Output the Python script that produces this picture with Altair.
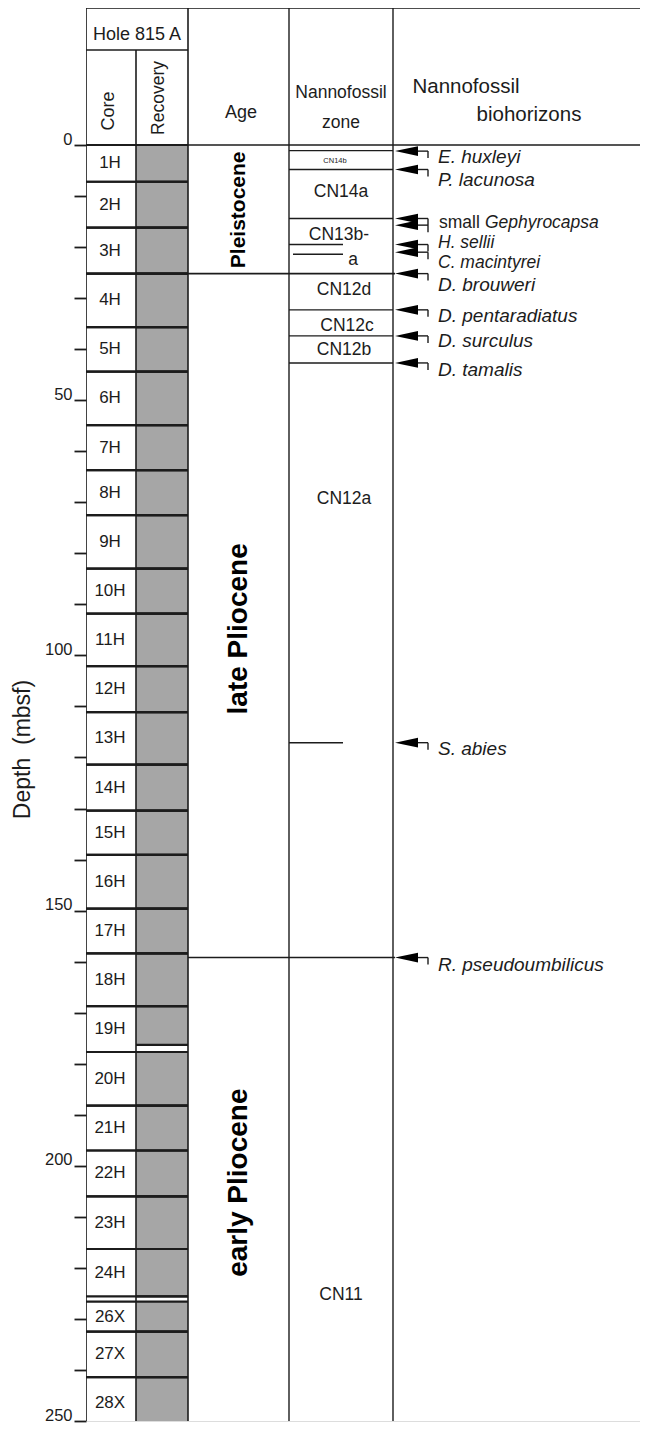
import altair as alt
import pandas as pd

# ---------------- data ----------------
core_names = ["1H", "2H", "3H", "4H", "5H", "6H", "7H", "8H", "9H", "10H", "11H", "12H",
              "13H", "14H", "15H", "16H", "17H", "18H", "19H", "20H", "21H", "22H", "23H",
              "24H", "26X", "27X", "28X"]
core_top = [0.0, 7.2, 16.2, 25.2, 35.7, 44.4, 54.9, 63.7, 72.5, 83.0, 91.8, 102.1, 111.1,
            121.4, 130.4, 139.1, 149.6, 158.4, 168.7, 177.7, 188.2, 197.0, 206.0, 216.3,
            226.6, 232.5, 241.4]
core_bottom = [7.2, 16.2, 25.2, 35.7, 44.4, 54.9, 63.7, 72.5, 83.0, 91.8, 102.1, 111.1,
               121.4, 130.4, 139.1, 149.6, 158.4, 168.7, 177.7, 188.2, 197.0, 206.0, 216.3,
               225.6, 232.5, 241.4, 251.6]
recovery_bottom = [7.2, 16.2, 25.2, 35.7, 44.4, 54.9, 63.7, 72.5, 83.0, 91.8, 102.1, 111.1,
                   121.4, 130.4, 139.1, 149.6, 158.4, 168.7, 176.3, 188.2, 197.0, 206.0,
                   216.3, 225.6, 232.5, 241.4, 251.6]
depth_ticks = list(range(0, 251, 10))

age_names = ["Pleistocene", "late Pliocene", "early Pliocene"]
age_label_depth = [12.7, 94.8, 203.3]
age_label_size = [21, 28, 28]
age_boundary_depth = [25.2, 159.2]

zone_names = ["CN14b", "CN14a", "CN13b-", "a", "CN12d", "CN12c", "CN12b", "CN12a", "CN11"]
zone_label_depth = [3.1, 9.2, 17.7, 22.6, 28.5, 35.5, 40.2, 69.4, 225.4]
zone_line_depth = [1.1, 4.8, 14.4, 19.5, 21.4, 32.3, 37.4, 42.7, 117.1]
zone_line_kind = ["full", "full", "full", "part", "part2", "full", "full", "full", "part"]

arrow_depth = [1.2, 4.8, 14.4, 15.7, 19.5, 21.0, 25.2, 32.3, 37.4, 42.7, 117.1, 159.2]

species = ["E. huxleyi", "P. lacunosa", "Gephyrocapsa", "H. sellii", "C. macintyrei",
           "D. brouweri", "D. pentaradiatus", "D. surculus", "D. tamalis", "S. abies",
           "R. pseudoumbilicus"]
species_label_depth = [2.4, 6.8, 15.2, 19.2, 23.2, 27.4, 33.5, 38.4, 44.0, 118.3, 160.6]
crowded = [False, False, True, True, True, False, False, False, False, False, False]

# ---------------- layout (pixels) ----------------
FONT = "Liberation Sans, Arial, Helvetica, sans-serif"
INK = "#1c1c1c"
PLOT_W, PLOT_H = 554, 1413
ZERO_PX = 137                     # header height above depth 0
DMAX = 250
S = (PLOT_H - ZERO_PX) / DMAX     # px per metre
H0 = ZERO_PX / S


def hd(px):
    """header position, px below header top -> depth units"""
    return -H0 + px / S


X_CORE, X_REC, X_AGE, X_ZONE, X_BIO, X_END = 0, 50, 102, 203, 307, PLOT_W

yscale = alt.Scale(domain=[-H0, DMAX], reverse=True, nice=False, zero=False)
xscale = alt.Scale(domain=[0, PLOT_W], nice=False, zero=False)
yaxis = alt.Axis(values=depth_ticks, labelExpr="datum.value % 50 == 0 ? datum.label : ''",
                 tickSize=12, tickWidth=1.8, tickColor=INK, domain=False, grid=False,
                 labelFontSize=16.5, labelFont=FONT, labelColor=INK, labelPadding=2,
                 labelBaseline="alphabetic", labelOverlap=False, labelBound=False,
                 labelFlush=False, labelOffset=-1,
                 title="Depth\u00a0\u00a0(mbsf)", titleFont=FONT, titleFontSize=23,
                 titleFontWeight="normal", titleColor=INK, titleAngle=270,
                 titleX=-57, titleY=741, titleAlign="center", titleBaseline="alphabetic")


def X(f):
    return alt.X(f, type="quantitative", scale=xscale, axis=None)


def Y(f):
    return alt.Y(f, type="quantitative", scale=yscale, axis=yaxis)


# ---------------- tables ----------------
cores = pd.DataFrame({"name": core_names, "top": core_top, "bottom": core_bottom,
                      "rbot": recovery_bottom})
cores["mid"] = (cores["top"] + cores["bottom"]) / 2
cores["xc"] = 24
cores["x0"] = X_CORE
cores["x1"] = X_AGE
cores["r0"] = X_REC

h_lines = []
for d in core_top + core_bottom:
    h_lines.append({"y": d, "x0": X_CORE, "x1": X_AGE, "w": 2.2})
for d in recovery_bottom:
    h_lines.append({"y": d, "x0": X_REC, "x1": X_AGE, "w": 2.2})
h_lines.append({"y": hd(0), "x0": X_CORE, "x1": X_END, "w": 1.6})
h_lines.append({"y": hd(42), "x0": X_CORE, "x1": X_AGE, "w": 1.4})
h_lines.append({"y": 0, "x0": X_CORE, "x1": X_END, "w": 1.6})
h_lines.append({"y": age_boundary_depth[0], "x0": X_CORE, "x1": X_BIO + 2, "w": 1.8})
h_lines.append({"y": age_boundary_depth[1], "x0": X_AGE, "x1": X_BIO + 2, "w": 1.5})
kind_x = {"full": (X_ZONE, X_BIO), "part": (X_ZONE, 257), "part2": (207, 257)}
for d, k in zip(zone_line_depth, zone_line_kind):
    h_lines.append({"y": d, "x0": kind_x[k][0], "x1": kind_x[k][1], "w": 1.4})
# arrow hooks
for d in arrow_depth:
    h_lines.append({"y": d, "x0": 330, "x1": 342, "w": 1.4})
hl = pd.DataFrame(h_lines)

v_lines = pd.DataFrame([
    {"x": X_CORE, "y0": hd(0), "y1": 252, "w": 1.6},
    {"x": X_REC, "y0": hd(42), "y1": 252, "w": 1.6},
    {"x": X_AGE, "y0": hd(0), "y1": 252, "w": 1.6},
    {"x": X_ZONE, "y0": hd(0), "y1": 252, "w": 1.4},
    {"x": X_BIO, "y0": hd(0), "y1": 252, "w": 1.4},
] + [{"x": 342, "y0": d, "y1": d + 7 / S, "w": 1.4} for d in arrow_depth])

arrows = pd.DataFrame({"y": arrow_depth})
arrows["x"] = 320.5

header_txt = pd.DataFrame([
    {"t": "Hole 815 A", "x": 51, "y": hd(27), "s": 18, "a": 0},
    {"t": "Age", "x": 155, "y": hd(105), "s": 18, "a": 0},
    {"t": "Nannofossil", "x": 255, "y": hd(85), "s": 17.5, "a": 0},
    {"t": "zone", "x": 255, "y": hd(115), "s": 17.5, "a": 0},
    {"t": "Nannofossil", "x": 380, "y": hd(79), "s": 20.5, "a": 0},
    {"t": "biohorizons", "x": 443, "y": hd(107), "s": 20.5, "a": 0},
    {"t": "Core", "x": 23, "y": hd(103), "s": 18, "a": 270},
    {"t": "Recovery", "x": 73, "y": hd(90), "s": 17.5, "a": 270},
])

zone_x = [249, 255, 253, 267, 258, 261, 258, 258, 255]
zone_s = [7.5] + [17.5] * 8
zones = pd.DataFrame({"t": zone_names, "y": zone_label_depth, "x": zone_x, "s": zone_s})

ages = pd.DataFrame({"t": age_names, "y": age_label_depth, "s": age_label_size})
ages["x"] = 153

sp = pd.DataFrame({"t": species, "y": species_label_depth})
sp["s"] = [17.5 if c else 19 for c in crowded]
sp["x"] = [352, 352, 399, 352, 352, 352, 352, 352, 352, 352, 352]
small = pd.DataFrame({"t": ["small"], "y": [species_label_depth[2]], "x": [353]})

# ---------------- layers ----------------
rec = alt.Chart(cores).mark_rect(color="#a6a6a6", clip=True).encode(
    x=X("r0"), x2="x1", y=Y("top"), y2="rbot")

hrules = alt.Chart(hl).mark_rule(color=INK, clip=True).encode(
    x=X("x0"), x2="x1", y=Y("y"), strokeWidth=alt.StrokeWidth("w:Q", scale=None))

vrules = alt.Chart(v_lines).mark_rule(color=INK, clip=True).encode(
    x=X("x"), y=Y("y0"), y2="y1", strokeWidth=alt.StrokeWidth("w:Q", scale=None))

heads = alt.Chart(arrows).mark_point(
    shape="M -1 0 L 1 -0.42 L 1 0.42 Z", filled=True, size=529, color="black",
    opacity=1, strokeWidth=0).encode(x=X("x"), y=Y("y"))

core_lbl = alt.Chart(cores).mark_text(font=FONT, fontSize=17, color=INK,
                                       align="center", baseline="middle", clip=True).encode(
    x=X("xc"), y=Y("mid"), text="name:N")

head_lbl = alt.Chart(header_txt).mark_text(font=FONT, color=INK, align="center",
                                            baseline="middle").encode(
    x=X("x"), y=Y("y"), text="t:N", size=alt.Size("s:Q", scale=None),
    angle=alt.Angle("a:Q", scale=None))

zone_lbl = alt.Chart(zones).mark_text(font=FONT, color=INK, align="center",
                                       baseline="middle").encode(
    x=X("x"), y=Y("y"), text="t:N", size=alt.Size("s:Q", scale=None))

age_lbl = alt.Chart(ages).mark_text(font=FONT, color="black", fontWeight="bold",
                                     align="center", baseline="middle", angle=270).encode(
    x=X("x"), y=Y("y"), text="t:N", size=alt.Size("s:Q", scale=None))

sp_lbl = alt.Chart(sp).mark_text(font=FONT, color=INK, fontStyle="italic",
                                  align="left", baseline="middle").encode(
    x=X("x"), y=Y("y"), text="t:N", size=alt.Size("s:Q", scale=None))

small_lbl = alt.Chart(small).mark_text(font=FONT, color=INK, fontSize=17.5,
                                        align="left", baseline="middle").encode(
    x=X("x"), y=Y("y"), text="t:N")

chart = alt.layer(rec, hrules, vrules, heads, core_lbl, head_lbl, zone_lbl, age_lbl,
                  sp_lbl, small_lbl).properties(
    width=PLOT_W, height=PLOT_H,
    padding={"left": 78, "top": 0, "right": 0, "bottom": 3},
    autosize=alt.AutoSizeParams(type="none"),
).configure_view(stroke=None).configure(background="white")

chart.save("out.html", embed_options={"renderer": "svg", "actions": False})
